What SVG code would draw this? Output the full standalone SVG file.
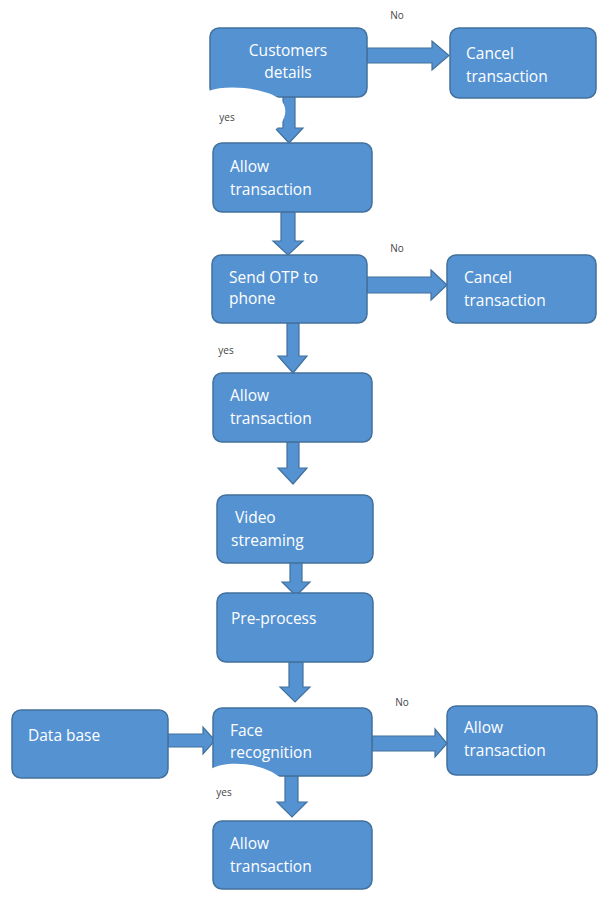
<svg xmlns="http://www.w3.org/2000/svg" width="599" height="899" viewBox="0 0 599 899">
<style>
.box{fill:#5592d2;stroke:#41719c;stroke-width:1.5}
.arr{fill:#5592d2;stroke:#41719c;stroke-width:1.2;stroke-linejoin:miter}
.t{font-family:"Open Sans","Noto Sans",sans-serif;font-size:15.5px;fill:#ffffff}
.lbl{font-family:"Open Sans","Noto Sans",sans-serif;font-size:10px;fill:#444444}
.blob{fill:#ffffff}
</style>
<rect width="599" height="899" fill="#ffffff"/>
<g id="connectors">
<polygon class="arr" points="367,48 432,48 432,41 449,55.5 432,70 432,63 367,63"/>
<polygon class="arr" points="283,97 295,97 295,128 303,128 289,143 275,128 283,128"/>
<polygon class="arr" points="281,212 295,212 295,241 303,241 288,255 273,241 281,241"/>
<polygon class="arr" points="367,277 431,277 431,270 447,285 431,300 431,293 367,293"/>
<polygon class="arr" points="287,323 299,323 299,356 307,356 293,373 278,356 287,356"/>
<polygon class="arr" points="287,442 299,442 299,468 307,468 293,484 278,468 287,468"/>
<polygon class="arr" points="290,556 302,556 302,582 310,582 296,596 282,582 290,582"/>
<polygon class="arr" points="289,662 303,662 303,687 310,687 295,702 280,687 289,687"/>
<polygon class="arr" points="168,734 203,734 203,727 215,740.5 203,754 203,747 168,747"/>
<polygon class="arr" points="372,736 435,736 435,729 447,743.5 435,757 435,751 372,751"/>
<polygon class="arr" points="285,776 298,776 298,802 307,802 292,817 277,802 285,802"/>
</g>
<g id="n1"><rect class="box" x="210" y="28" width="157" height="69" rx="9"/>
<text class="t" x="288" y="56" text-anchor="middle">Customers</text><text class="t" x="288" y="78" text-anchor="middle">details</text></g>
<g id="n2"><rect class="box" x="450" y="28" width="146" height="70" rx="9"/>
<text class="t" x="466" y="59">Cancel</text><text class="t" x="466" y="82">transaction</text></g>
<g id="n3"><rect class="box" x="213" y="143" width="159" height="69" rx="9"/>
<text class="t" x="230" y="172">Allow</text><text class="t" x="230" y="195">transaction</text></g>
<g id="n4"><rect class="box" x="212" y="255" width="155" height="68" rx="9"/>
<text class="t" x="229" y="283">Send OTP to</text><text class="t" x="229" y="304">phone</text></g>
<g id="n5"><rect class="box" x="447" y="255" width="149" height="68" rx="9"/>
<text class="t" x="464" y="283">Cancel</text><text class="t" x="464" y="306">transaction</text></g>
<g id="n6"><rect class="box" x="213" y="373" width="159" height="69" rx="9"/>
<text class="t" x="230" y="401">Allow</text><text class="t" x="230" y="424">transaction</text></g>
<g id="n7"><rect class="box" x="217" y="495" width="156" height="68" rx="9"/>
<text class="t" x="235" y="523">Video</text><text class="t" x="231" y="546">streaming</text></g>
<g id="n8"><rect class="box" x="217" y="593" width="156" height="69" rx="9"/>
<text class="t" x="231" y="624">Pre-process</text></g>
<g id="n9"><rect class="box" x="12" y="710" width="156" height="68" rx="9"/>
<text class="t" x="28" y="741">Data base</text></g>
<g id="n10"><rect class="box" x="213" y="708" width="159" height="68" rx="9"/>
<text class="t" x="230" y="736">Face</text><text class="t" x="230" y="758">recognition</text></g>
<g id="n11"><rect class="box" x="447" y="706" width="150" height="69" rx="9"/>
<text class="t" x="464" y="733">Allow</text><text class="t" x="464" y="756">transaction</text></g>
<g id="n12"><rect class="box" x="213" y="821" width="159" height="68" rx="9"/>
<text class="t" x="230" y="849">Allow</text><text class="t" x="230" y="872">transaction</text></g>
<g id="artifacts">
<path class="blob" d="M208 91 C228 84 264 88 280 99 C287 106 286 114 283 120 C279 128 270 136 255 141 L208 141 Z"/>
<path class="blob" d="M211 769 C226 760 262 762 281 778 L211 778 Z"/>
</g>
<g id="labels">
<text class="lbl" x="397" y="19" text-anchor="middle">No</text>
<text class="lbl" x="227" y="121" text-anchor="middle">yes</text>
<text class="lbl" x="397" y="252" text-anchor="middle">No</text>
<text class="lbl" x="226" y="354" text-anchor="middle">yes</text>
<text class="lbl" x="402" y="706" text-anchor="middle">No</text>
<text class="lbl" x="224" y="796" text-anchor="middle">yes</text>
</g>
</svg>
